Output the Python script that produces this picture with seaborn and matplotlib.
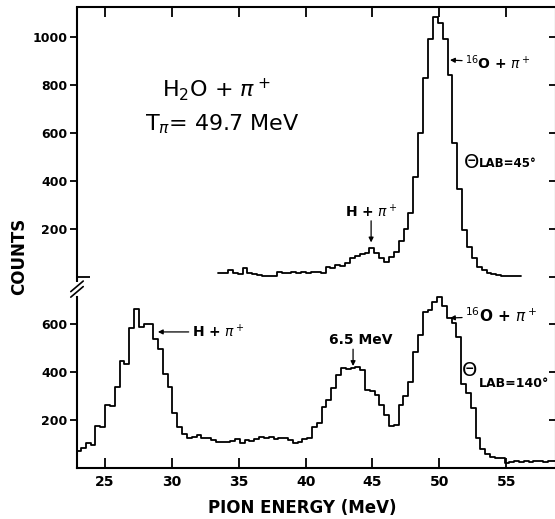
import numpy as np
import pandas as pd
import matplotlib
matplotlib.use("Agg")
import matplotlib.pyplot as plt
import seaborn as sns

# pion spectra, H2O + pi+ at T_pi = 49.7 MeV
# lower spectrum: Theta_lab = 140 deg (channels start / width in MeV)
low_start = 22.84
low_width = 0.36
low_counts = [71, 83, 104, 96, 176, 172, 262, 258, 339, 447,
              433, 585, 662, 589, 600, 600, 537, 496, 392, 337,
              230, 171, 142, 125, 130, 137, 124, 124, 117, 107,
              107, 107, 114, 121, 104, 117, 114, 121, 131, 124,
              131, 121, 124, 124, 117, 106, 110, 121, 124, 172,
              186, 255, 283, 332, 387, 415, 414, 415, 420, 408,
              325, 320, 304, 262, 221, 175, 179, 262, 300, 360,
              485, 554, 650, 660, 690, 714, 675, 624, 605, 545,
              350, 311, 249, 125, 80, 58, 47, 42, 40, 22,
              25, 28, 26, 30, 27, 28, 30, 27, 29, 28]

# upper spectrum: Theta_lab = 45 deg
up_start = 33.46
up_width = 0.365
up_counts = [15, 15, 30, 15, 14, 36, 16, 12, 10, 6,
             5, 6, 22, 15, 17, 22, 15, 22, 17, 20,
             19, 17, 40, 36, 50, 46, 57, 78, 87, 96,
             101, 119, 100, 80, 64, 85, 104, 150, 199, 265,
             418, 599, 828, 990, 1082, 1058, 990, 842, 560, 365,
             196, 126, 78, 43, 29, 15, 13, 10, 6, 4,
             4, 4]

# the upper panel sits on the same axis, shifted up (broken axis)
UP_OFFSET = 796
x_ticks = [25, 30, 35, 40, 45, 50, 55]
low_yticks = [200, 400, 600]
up_yticks = [200, 400, 600, 800, 1000]


def step_frame(start, width, counts, offset=0):
    edges = start + width * np.arange(len(counts) + 1)
    y = np.append(counts, counts[-1]) + offset
    return pd.DataFrame({"energy": edges, "counts": y})


low_df = step_frame(low_start, low_width, low_counts)
up_df = step_frame(up_start, up_width, up_counts, UP_OFFSET)

sns.set_style("ticks")
plt.rcParams["font.family"] = ["DejaVu Sans"]
plt.rcParams["mathtext.fontset"] = "dejavusans"
for key in ("text.color", "axes.labelcolor", "xtick.color", "ytick.color", "axes.edgecolor"):
    plt.rcParams[key] = "black"

fig = plt.figure(figsize=(5.55, 5.19), dpi=100)
ax = fig.add_axes([77 / 555, 1 - 468 / 519, 479 / 555, 461 / 519])

for df in (low_df, up_df):
    sns.lineplot(data=df, x="energy", y="counts", drawstyle="steps-post",
                 estimator=None, sort=False, color="black", lw=1.3, ax=ax)

ax.set_xlim(22.9, 58.73)
ax.set_ylim(0, 1921)

# x axis
ax.set_xticks(x_ticks)
ax.set_xticklabels([str(t) for t in x_ticks], fontsize=10, fontweight="bold")
ax.tick_params(axis="x", direction="in", length=7, width=1.3, top=True, pad=5)
ax.set_xlabel("PION ENERGY (MeV)", fontsize=12, fontweight="bold")
ax.xaxis.set_label_coords(0.47, -0.068)

# y axis: two scales on one spine
yt = low_yticks + [UP_OFFSET + t for t in up_yticks]
ax.set_yticks(yt)
ax.set_yticklabels([str(t) for t in low_yticks + up_yticks], fontsize=9, fontweight="bold")
ax.set_yticks([UP_OFFSET], minor=True)
ax.tick_params(axis="y", which="major", direction="out", length=5, width=1.3, pad=2)
ax.tick_params(axis="y", which="minor", direction="in", length=9, width=1.3)
ax.set_ylabel("COUNTS", fontsize=12, fontweight="bold")
ax.yaxis.set_label_coords(-0.102, 0.46)

right = ax.secondary_yaxis("right")
right.set_yticks(yt + [UP_OFFSET])
right.tick_params(direction="in", length=5, width=1.3, labelright=False)

for s in ax.spines.values():
    s.set_linewidth(1.5)
right.spines["right"].set_linewidth(1.5)

# broken left spine with // marks
ax.spines["left"].set_bounds(0, 712)
ytr = ax.get_yaxis_transform()
ax.plot([0, 0], [776, 1921], transform=ytr, color="black", lw=1.5,
        clip_on=False, solid_capstyle="butt")
for yc in (734, 757):
    ax.plot([-0.013, 0.013], [yc - 22, yc + 22], transform=ytr,
            color="black", lw=1.2, clip_on=False)

arrow = dict(arrowstyle="-|>", color="black", lw=0.9, mutation_scale=7,
             shrinkA=0, shrinkB=0)

# labels
ax.text(29.26, 1579, r"H$_2$O + $\pi^+$", fontsize=16, va="center")
ax.text(27.99, 1433, r"T$_\pi$= 49.7 MeV", fontsize=16, va="center")

ax.annotate(r"$^{16}$O + $\pi^+$", xy=(50.8, 1700), xytext=(51.95, 1690),
            fontsize=10, fontweight="bold", ha="left", va="center", arrowprops=arrow)
ax.text(51.85, 1275, "Θ", fontsize=14, va="center")
ax.text(52.95, 1268, "LAB=45°", fontsize=8.5, fontweight="bold", va="center")

ax.annotate("", xy=(44.9, 940), xytext=(44.9, 1030), arrowprops=arrow)
ax.text(44.9, 1067, r"H + $\pi^+$", fontsize=10, fontweight="bold", ha="center", va="center")

ax.annotate(r"H + $\pi^+$", xy=(28.95, 567), xytext=(31.5, 567),
            fontsize=10, fontweight="bold", ha="left", va="center", arrowprops=arrow)

ax.annotate("", xy=(43.55, 425), xytext=(43.55, 495), arrowprops=arrow)
ax.text(44.15, 533, "6.5 MeV", fontsize=10, fontweight="bold", ha="center", va="center")

ax.annotate(r"$^{16}$O + $\pi^+$", xy=(50.8, 625), xytext=(51.95, 633),
            fontsize=11, fontweight="bold", ha="left", va="center", arrowprops=arrow)
ax.text(51.7, 408, "Θ", fontsize=14, va="center")
ax.text(52.95, 354, "LAB=140°", fontsize=9, fontweight="bold", va="center")

fig.savefig("out.png", dpi=100)
